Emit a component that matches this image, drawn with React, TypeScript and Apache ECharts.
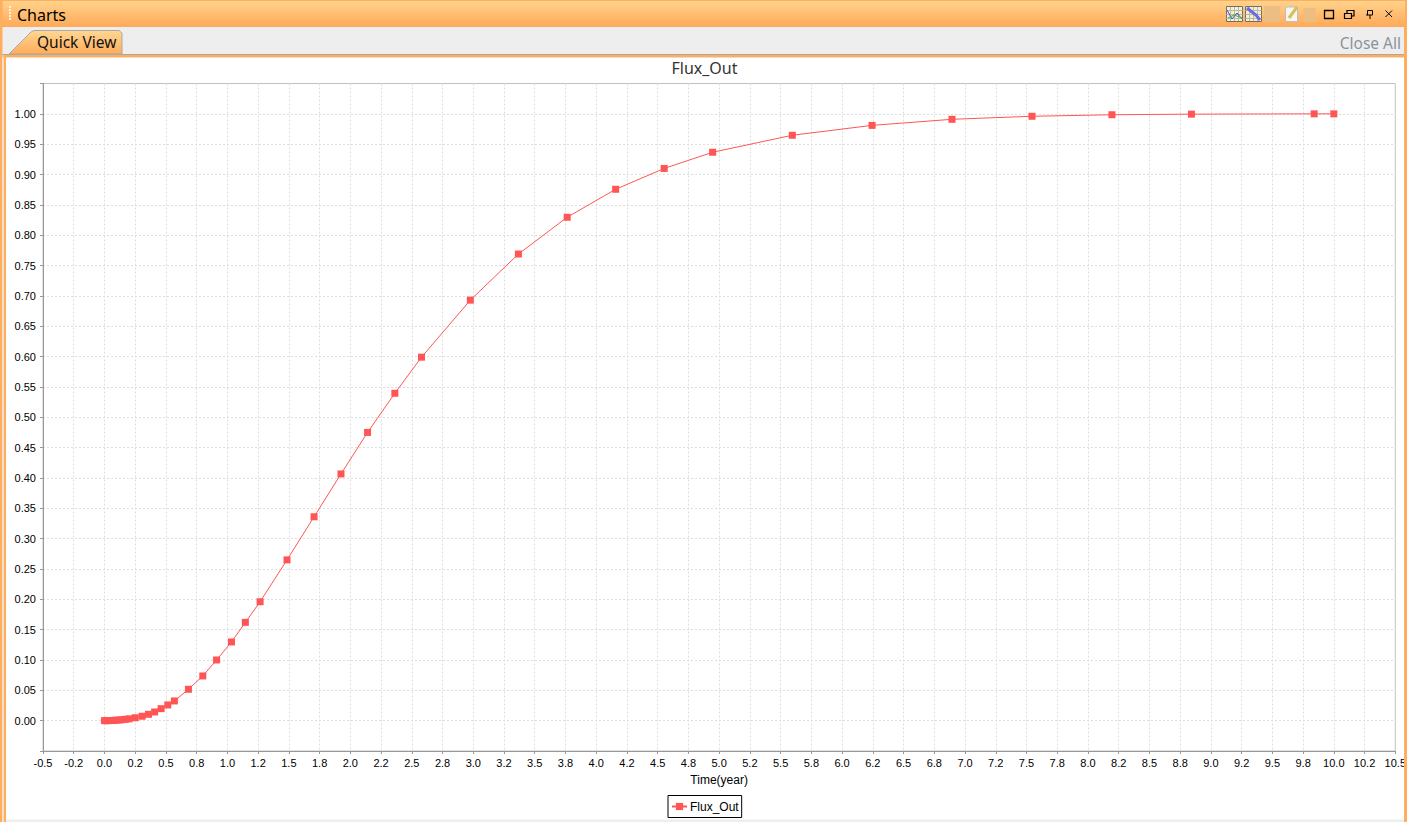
import React, { useEffect, useRef } from "react";
import * as echarts from "echarts";

const seriesName = "Flux_Out";
const chartTitle = "Flux_Out";
const xAxisName = "Time(year)";
const timeValues = [
  0, 0.015, 0.03, 0.05, 0.07, 0.09, 0.115, 0.14, 0.17, 0.2, 0.25, 0.306, 0.358, 0.408, 0.461, 0.515,
  0.569, 0.683, 0.8, 0.912, 1.033, 1.146, 1.266, 1.485, 1.705, 1.924, 2.14, 2.362, 2.579, 2.976, 3.367,
  3.764, 4.158, 4.553, 4.947, 5.595, 6.244, 6.894, 7.545, 8.195, 8.842, 9.84, 10,
];
const fluxValues = [
  0, 0, 0.0001, 0.0002, 0.0004, 0.0007, 0.001, 0.0015, 0.0022, 0.003, 0.0048, 0.0073, 0.0105, 0.0143, 0.0198, 0.0259,
  0.0325, 0.0517, 0.0737, 0.1, 0.1297, 0.162, 0.196, 0.265, 0.336, 0.4066, 0.475, 0.5395, 0.599, 0.693, 0.769,
  0.8296, 0.8757, 0.91, 0.9367, 0.9647, 0.981, 0.991, 0.996, 0.9985, 0.9995, 1, 1,
];
const xTickLabels = [
  "-0.5", "-0.2", "0.0", "0.2", "0.5", "0.8", "1.0", "1.2", "1.5", "1.8", "2.0", "2.2", "2.5", "2.8", "3.0",
  "3.2", "3.5", "3.8", "4.0", "4.2", "4.5", "4.8", "5.0", "5.2", "5.5", "5.8", "6.0", "6.2", "6.5", "6.8",
  "7.0", "7.2", "7.5", "7.8", "8.0", "8.2", "8.5", "8.8", "9.0", "9.2", "9.5", "9.8", "10.0", "10.2", "10.5",
];
const yTickLabels = [
  "", "0.00", "0.05", "0.10", "0.15", "0.20", "0.25", "0.30", "0.35", "0.40", "0.45", "0.50", "0.55", "0.60",
  "0.65", "0.70", "0.75", "0.80", "0.85", "0.90", "0.95", "1.00", "",
];

const RED = "#FF5555";
const ORANGE = "#FFAD5E";
const SANS = "'Liberation Sans', Arial, sans-serif";
const UI = "'Noto Sans', sans-serif";

function chrome(): any[] {
  const Z = 50;
  const head = new echarts.graphic.LinearGradient(0, 0, 0, 1, [
    { offset: 0, color: "#FFD48C" },
    { offset: 1, color: "#FFA858" },
  ]);
  const tab = new echarts.graphic.LinearGradient(0, 0, 0, 1, [
    { offset: 0, color: "#FFD793" },
    { offset: 1, color: "#FFAB5A" },
  ]);
  const r = (x: number, y: number, width: number, height: number, style: any) => ({
    type: "rect", z: Z, silent: true, shape: { x, y, width, height }, style,
  });
  const poly = (points: number[][], style: any) => ({
    type: "polyline", z: Z + 1, silent: true, shape: { points }, style: { fill: "none", stroke: "#000", lineWidth: 1, ...style },
  });
  const dots: any[] = [6, 9, 12, 15, 18].map((y) => r(9, y, 2, 2, { fill: "#FFF3DC" }));
  const iconGrid = (x0: number): any[] =>
    [4, 8, 12].flatMap((d) => [
      poly([[x0 + d, 7], [x0 + d, 21]], { stroke: "#BDB99A" }),
      poly([[x0, 6.5 + d], [x0 + 16, 6.5 + d]], { stroke: "#BDB99A" }),
    ]);
  return [
    // outer frame
    r(0, 0, 1409, 27.5, { fill: head }),
    r(0, 0, 1409, 1, { fill: ORANGE }),
    r(0, 27, 1409, 27.5, { fill: "#EEEEEE" }),
    r(0, 54, 1409, 1, { fill: "#A8A8A8" }),
    r(0, 55, 1409, 2.5, { fill: ORANGE }),
    r(0, 0, 2.5, 822, { fill: ORANGE }),
    r(2.5, 55, 1.2, 767, { fill: "#E9E9E9" }),
    r(3.7, 55, 2.3, 767, { fill: ORANGE }),
    r(1404, 27, 3, 795, { fill: ORANGE }),
    r(1407, 0, 2, 822, { fill: "#FFFFFF" }),
    r(1405, 0, 2, 27, { fill: ORANGE }),
    r(6, 819.5, 1398, 2.5, { fill: "#EEEEEE" }),
    ...dots,
    // tab
    {
      type: "polygon", z: Z + 1, silent: true,
      shape: { points: [[9, 54], [31, 32], [34, 30.5], [119, 30.5], [122, 33], [122, 54]] },
      style: { fill: tab, stroke: "#A9A9A9", lineWidth: 1 },
    },
    { type: "text", z: Z + 2, silent: true, x: 17, y: 15, style: { text: "Charts", font: `16px ${UI}`, fill: "#000", textVerticalAlign: "middle" } },
    { type: "text", z: Z + 2, silent: true, x: 37, y: 42, style: { text: "Quick View", font: `15.5px ${UI}`, fill: "#101010", textVerticalAlign: "middle" } },
    { type: "text", z: Z + 2, silent: true, x: 1401, y: 43, style: { text: "Close All", font: `15.5px ${UI}`, fill: "#8A949E", textAlign: "right", textVerticalAlign: "middle" } },
    // toolbar icons
    r(1226.5, 6.5, 16, 15, { fill: "#F2EFD6", stroke: "#6E6E6E", lineWidth: 1 }),
    ...iconGrid(1226.5),
    poly([[1227, 10], [1232, 19], [1237, 13], [1242, 19]], { stroke: "#4A4AE0" }),
    poly([[1228, 18], [1234, 15], [1242, 18]], { stroke: "#3CB43C" }),
    r(1245.5, 6.5, 16, 15, { fill: "#F2EFD6", stroke: "#6E6E6E", lineWidth: 1 }),
    ...iconGrid(1245.5),
    poly([[1247, 8], [1252, 12], [1256, 15], [1260, 20]], { stroke: "#6A6AE6", lineWidth: 3 }),
    r(1264, 6, 16, 16, { fill: "#EDBE83" }),
    r(1285.5, 7, 12, 14.5, { fill: "#F7F7F2", stroke: "#BDBDBD", lineWidth: 1 }),
    poly([[1289, 18], [1297, 7]], { stroke: "#D8BE5A", lineWidth: 3 }),
    r(1303.5, 8, 12, 14, { fill: "#EDBE83" }),
    r(1324.5, 10.5, 9, 8, { fill: "none", stroke: "#000", lineWidth: 1.3 }),
    r(1344.5, 13.5, 7, 5, { fill: "none", stroke: "#000", lineWidth: 1.2 }),
    poly([[1347, 13], [1347, 10.5], [1354, 10.5], [1354, 16], [1352, 16]], { lineWidth: 1.2 }),
    poly([[1367.5, 15], [1367.5, 10.5], [1372.5, 10.5], [1372.5, 15], [1366, 15]], { lineWidth: 1 }),
    poly([[1370, 15], [1370, 19]], { lineWidth: 1 }),
    poly([[1385.5, 10.5], [1392, 17]], { lineWidth: 1 }),
    poly([[1392, 10.5], [1385.5, 17]], { lineWidth: 1 }),
  ];
}

export default function App() {
  const ref = useRef<HTMLDivElement>(null);
  useEffect(() => {
    if (!ref.current) return;
    const chart = echarts.init(ref.current, undefined, { renderer: "svg" });
    chart.setOption({
      animation: false,
      backgroundColor: "#FFFFFF",
      title: {
        text: chartTitle,
        left: 699.5,
        top: 55,
        textAlign: "center",
        textStyle: { fontFamily: UI, fontSize: 16, fontWeight: "normal", color: "#333" },
      },
      legend: {
        left: 668,
        top: 795.5,
        padding: [5, 3, 5, 3],
        backgroundColor: "#FFFFFF",
        borderColor: "#000000",
        borderWidth: 1,
        borderRadius: 0,
        itemWidth: 15,
        itemHeight: 9,
        itemGap: 0,
        textStyle: { fontFamily: SANS, fontSize: 12, color: "#000", padding: [0, 0, 0, -2] },
        data: [seriesName],
      },
      grid: { left: 43, right: 13, top: 83.5, bottom: 71, show: true, borderColor: "#C0C0C0", borderWidth: 1, backgroundColor: "#FFFFFF" },
      xAxis: {
        type: "value",
        name: xAxisName,
        nameLocation: "middle",
        nameGap: 23,
        nameTextStyle: { fontFamily: SANS, fontSize: 12, color: "#000" },
        min: -0.5,
        max: 10.5,
        interval: 0.25,
        axisLine: { show: true, onZero: false, lineStyle: { color: "#999999", width: 1 } },
        axisTick: { show: true, length: 3, lineStyle: { color: "#999999" } },
        axisLabel: {
          show: true,
          interval: 0,
          hideOverlap: false,
          showMinLabel: true,
          showMaxLabel: true,
          margin: 6,
          fontFamily: SANS,
          fontSize: 11,
          color: "#000",
          formatter: (v: number) => xTickLabels[Math.round((v + 0.5) / 0.25)] ?? "",
        },
        splitLine: { show: true, showMinLine: false, showMaxLine: false, lineStyle: { color: "#DDDDDD", type: [2, 2], width: 1 } },
      },
      yAxis: {
        type: "value",
        min: -0.05,
        max: 1.05,
        interval: 0.05,
        axisLine: { show: true, onZero: false, lineStyle: { color: "#999999", width: 1 } },
        axisTick: { show: true, length: 3, lineStyle: { color: "#999999" } },
        axisLabel: {
          show: true,
          interval: 0,
          hideOverlap: false,
          margin: 7,
          fontFamily: SANS,
          fontSize: 11,
          color: "#000",
          formatter: (v: number) => yTickLabels[Math.round((v + 0.05) / 0.05)] ?? "",
        },
        splitLine: { show: true, showMinLine: false, showMaxLine: false, lineStyle: { color: "#DDDDDD", type: [2, 2], width: 1 } },
      },
      series: [
        {
          name: seriesName,
          type: "line",
          data: timeValues.map((t, i) => [t, fluxValues[i]]),
          symbol: "rect",
          symbolSize: 7,
          showAllSymbol: true,
          smooth: false,
          lineStyle: { color: RED, width: 1 },
          itemStyle: { color: RED },
        },
      ],
      graphic: { elements: chrome() },
    });
    return () => chart.dispose();
  }, []);
  return <div ref={ref} style={{ position: "fixed", left: 0, top: 0, width: 1409, height: 822 }} />;
}
